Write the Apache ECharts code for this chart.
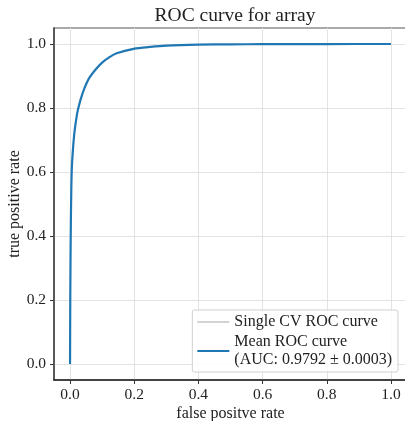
<!DOCTYPE html>
<html>
<head>
<meta charset="utf-8">
<script src="https://cdn.jsdelivr.net/npm/echarts@6/dist/echarts.min.js"></script>
<style>html,body{margin:0;padding:0;background:#fff}#c{width:405px;height:421px}</style>
</head>
<body>
<div id="c"></div>
<script>
const titleText = 'ROC curve for array';
const xLabel = 'false positve rate';
const yLabel = 'true positive rate';
const xTicks = [0.0, 0.2, 0.4, 0.6, 0.8, 1.0];
const yTicks = [0.0, 0.2, 0.4, 0.6, 0.8, 1.0];
const singleName = 'Single CV ROC curve';
const meanName = 'Mean ROC curve\n(AUC: 0.9792 \u00b1 0.0003)';
const meanFpr = [0, 0.0003, 0.0008, 0.0015, 0.0025, 0.0038, 0.0055, 0.0083, 0.0135, 0.019, 0.024, 0.034, 0.045, 0.060, 0.081, 0.100, 0.123, 0.145, 0.198, 0.25, 0.30, 0.40, 0.50, 0.60, 0.80, 1.0];
const meanTpr = [0, 0.10, 0.22, 0.33, 0.44, 0.54, 0.61, 0.660, 0.722, 0.763, 0.792, 0.830, 0.862, 0.894, 0.922, 0.942, 0.959, 0.971, 0.985, 0.991, 0.995, 0.998, 0.999, 0.9995, 0.9999, 1.0];

const font = "'Liberation Serif', 'DejaVu Serif', serif";
const chart = echarts.init(document.getElementById('c'), null, {renderer: 'canvas'});
const meanData = meanFpr.map((x, i) => [x, meanTpr[i]]);
const fmt = v => v.toFixed(1);
chart.setOption({
  animation: false,
  backgroundColor: '#fff',
  title: {
    text: titleText, left: 230, top: 1, textAlign: 'center',
    textStyle: {fontFamily: font, fontSize: 19.5, fontWeight: 'normal', color: '#222'}
  },
  grid: {left: 54, top: 28, width: 353, height: 352, show: true, borderColor: '#555', borderWidth: 1.2, containLabel: false, outerBoundsMode: 'none'},
  xAxis: {
    type: 'value', min: -0.05, max: 1.05,
    name: xLabel, nameLocation: 'middle', nameGap: 26, nameMoveOverlap: false,
    nameTextStyle: {fontFamily: font, fontSize: 16, color: '#222'},
    axisLine: {show: true, onZero: false, lineStyle: {color: '#222', width: 1.5}},
    axisTick: {show: true, inside: false, length: 4, customValues: xTicks, lineStyle: {color: '#333'}},
    axisLabel: {customValues: xTicks, formatter: fmt, margin: 7, fontFamily: font, fontSize: 15.5, color: '#222'},
    splitLine: {show: true, lineStyle: {color: '#e3e3e3', width: 1}}
  },
  yAxis: {
    type: 'value', min: -0.05, max: 1.05,
    name: yLabel, nameLocation: 'middle', nameGap: 31, nameRotate: 90, nameMoveOverlap: false,
    nameTextStyle: {fontFamily: font, fontSize: 16, color: '#222'},
    axisLine: {show: true, onZero: false, lineStyle: {color: '#444', width: 1.5}},
    axisTick: {show: true, inside: false, length: 4, customValues: yTicks, lineStyle: {color: '#333'}},
    axisLabel: {customValues: yTicks, formatter: fmt, margin: 8, fontFamily: font, fontSize: 15.5, color: '#222'},
    splitLine: {show: true, lineStyle: {color: '#e3e3e3', width: 1}}
  },
  legend: {
    orient: 'vertical', right: 7, bottom: 49,
    backgroundColor: 'rgba(255,255,255,0.85)', borderColor: '#d0d0d0', borderWidth: 1, borderRadius: 2,
    padding: [3, 6, 3, 5], itemGap: 2, itemWidth: 32, itemHeight: 2,
    textStyle: {fontFamily: font, fontSize: 16, color: '#222', lineHeight: 18},
    data: [{name: singleName, icon: 'rect'}, {name: meanName, icon: 'rect'}]
  },
  series: [
    {name: singleName, type: 'line', data: [], showSymbol: false, color: '#d3d3d3', lineStyle: {color: '#d3d3d3', width: 1}},
    {name: meanName, type: 'line', data: meanData, showSymbol: false, smooth: 0.25, color: '#1f77b4', lineStyle: {color: '#1f77b4', width: 2.2}}
  ]
});
</script>
</body>
</html>
